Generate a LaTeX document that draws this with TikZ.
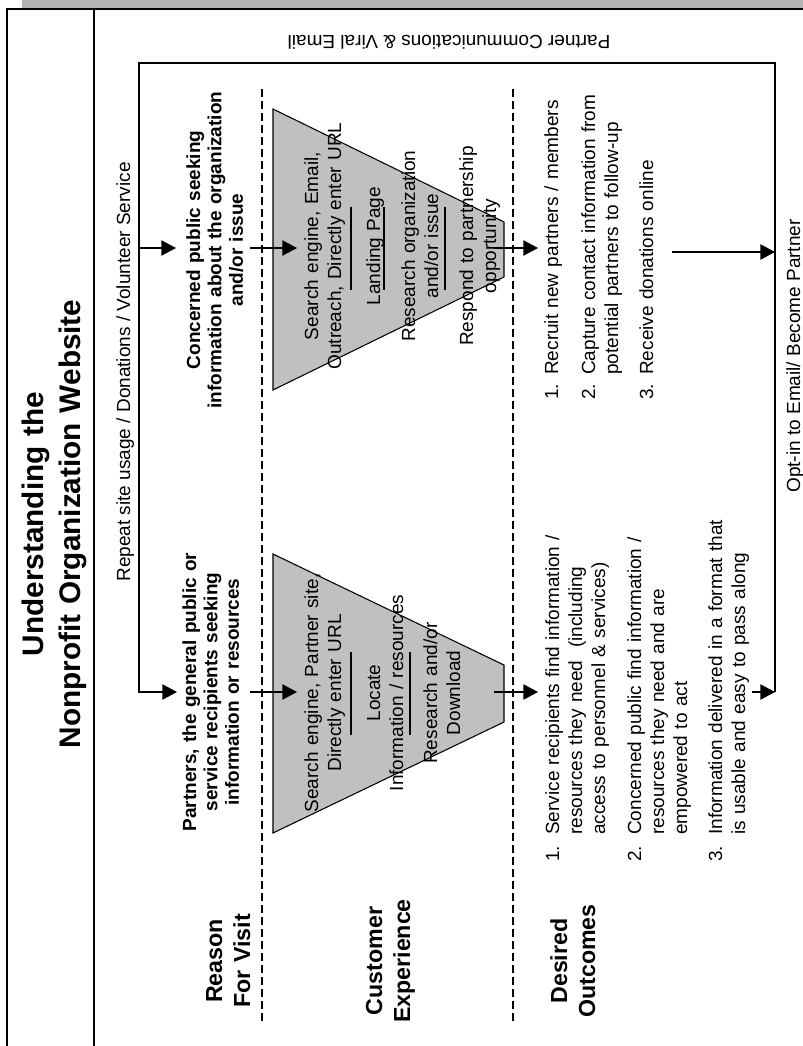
\documentclass[tikz,border=0pt]{standalone}
\usepackage{fontspec}
\setmainfont{Liberation Sans}
\usetikzlibrary{arrows.meta}
\setlength{\parindent}{0pt}
\definecolor{bandgray}{RGB}{179,179,179}
\definecolor{funnelgray}{RGB}{192,192,192}
\begin{document}
\begin{tikzpicture}[x=0.75pt,y=-0.75pt,
  flow/.style={line width=1pt},
  arr/.style={line width=1pt,-{Triangle[length=11pt,width=11.5pt]}},
  sepline/.style={line width=1.1pt,dash pattern=on 6pt off 3pt},
  rulebar/.style={line width=0.9pt},
  funnel/.style={draw=black,line width=0.8pt,fill=funnelgray},
  ttl/.style={rotate=90,anchor=base,inner sep=0pt,align=center,text width=360pt,font=\fontsize{22.3}{27.75}\selectfont\bfseries},
  rowlbl/.style={rotate=90,anchor=base,inner sep=0pt,align=center,text width=120pt,font=\fontsize{17.4}{21}\selectfont\bfseries},
  reasontxt/.style={rotate=90,anchor=base,inner sep=0pt,align=center,text width=260pt,font=\fontsize{14.25}{16.1}\selectfont\bfseries},
  ftxt/.style={rotate=90,anchor=base,inner sep=0pt,align=center,text width=220pt,font=\fontsize{14.25}{17.25}\selectfont},
  num/.style={rotate=90,anchor=base west,inner sep=0pt,font=\fontsize{14.25}{17.25}\selectfont},
  itemtxt/.style={rotate=90,anchor=base west,inner sep=0pt,align=left,text width=260pt,font=\fontsize{14.25}{17.25}\selectfont},
  flowlbl/.style={anchor=base,inner sep=0pt,font=\fontsize{14.25}{17.25}\selectfont}
]
\useasboundingbox (0,0) rectangle (803,1046);
% frame
\fill[bandgray] (22,0) rectangle (803,8);
\draw[line width=1.5pt] (7,1046) -- (7,9) -- (803,9);
\draw[line width=0.9pt] (94,9) -- (94,1046);
% title
\node (title) [ttl] at (43,524) {Understanding the\\Nonprofit Organization Website};
% row labels
\node (reason) [rowlbl] at (222,961) {Reason\\For Visit};
\node (custexp) [rowlbl] at (382,961) {Customer\\Experience};
\node (desired) [rowlbl] at (567,961) {Desired\\Outcomes};
% dashed separators
\draw[sepline] (262,89) -- (262,1022);
\draw[sepline] (513,89) -- (513,1022);
% funnels
\draw[funnel] (273,109) -- (504,222) -- (504,277) -- (273,390) -- cycle;
\draw[funnel] (273,554) -- (504,665) -- (504,722) -- (273,833) -- cycle;
\draw[rulebar] (351,206.5) -- (351,289.5);
\draw[rulebar] (384,206.5) -- (384,289.5);
\draw[rulebar] (445,206.5) -- (445,289.5);
\draw[rulebar] (351,652) -- (351,735);
\draw[rulebar] (410,652) -- (410,735);
% funnel texts
\node (fu1) [ftxt] at (318,246) {Search engine, Email,\\Outreach, Directly enter URL};
\node (fu2) [ftxt] at (380,246) {Landing Page};
\node (fu3) [ftxt] at (415,246) {Research organization\\and/or issue};
\node (fu4) [ftxt] at (473,246) {Respond to partnership\\opportunity};
\node (fl1) [ftxt] at (318,693) {Search engine, Partner site,\\Directly enter URL};
\node (fl2) [ftxt] at (380,693) {Locate\\Information / resources};
\node (fl3) [ftxt] at (437,693) {Research and/or\\Download};
% reasons
\node (concerned) [reasontxt] at (200,250) {Concerned public seeking\\information about the organization\\and/or issue};
\node (partners) [reasontxt] at (196,692) {Partners, the general public or\\service recipients seeking\\information or resources};
% outcomes (lower)
\node (n1) [num] at (559,862) {1.};
\node (o1) [itemtxt] at (559,835) {Service recipients find information /\\resources they need\ \ (including\\access to personnel \& services)};
\node (n2) [num] at (641,862) {2.};
\node (o2) [itemtxt] at (641,835) {Concerned public find information /\\resources they need and are\\empowered to act};
\node (n3) [num] at (722,862) {3.};
\node (o3) [itemtxt] at (722,835) {Information delivered in a format that\\is usable and easy to pass along};
% outcomes (upper)
\node (p1) [num] at (558,400) {1.};
\node (q1) [itemtxt] at (558,375) {Recruit new partners / members};
\node (p2) [num] at (595,400) {2.};
\node (q2) [itemtxt] at (595,375) {Capture contact information from\\potential partners to follow-up};
\node (p3) [num] at (653,400) {3.};
\node (q3) [itemtxt] at (653,375) {Receive donations online};
% flow labels
\node (repeat) [flowlbl,rotate=90] at (130,372) {Repeat site usage / Donations / Volunteer Service};
\node (viral) [flowlbl,rotate=180] at (449,35.5) {Partner Communications \& Viral Email};
\node (optin) [flowlbl,rotate=90] at (800,356) {Opt-in to Email/ Become Partner};
% coordinates
\coordinate (tl) at (139,63);
\coordinate (tr) at (775,63);
\coordinate (rb) at (775,692);
\coordinate (lb) at (139,692);
\coordinate (lm) at (139,248);
\coordinate (toPartners) at (177,692);
\coordinate (toConcerned) at (176,248);
\coordinate (b1s) at (250,248);
\coordinate (b1e) at (297,248);
\coordinate (b2s) at (250,692);
\coordinate (b2e) at (297,692);
\coordinate (c1s) at (494,248);
\coordinate (c1e) at (538,248);
\coordinate (c2s) at (494,692);
\coordinate (c2e) at (538,692);
\coordinate (d1s) at (672,252);
\coordinate (d1e) at (775,252);
\coordinate (d2s) at (752,692);
% connectors
\draw[arr] (rb) -- (tr) -- (tl) -- (lb) -- (toPartners);
\draw[arr] (lm) -- (toConcerned);
\draw[arr] (b1s) -- (b1e);
\draw[arr] (b2s) -- (b2e);
\draw[arr] (c1s) -- (c1e);
\draw[arr] (c2s) -- (c2e);
\draw[arr] (d1s) -- (d1e);
\draw[arr] (d2s) -- (rb);
\end{tikzpicture}
\end{document}
